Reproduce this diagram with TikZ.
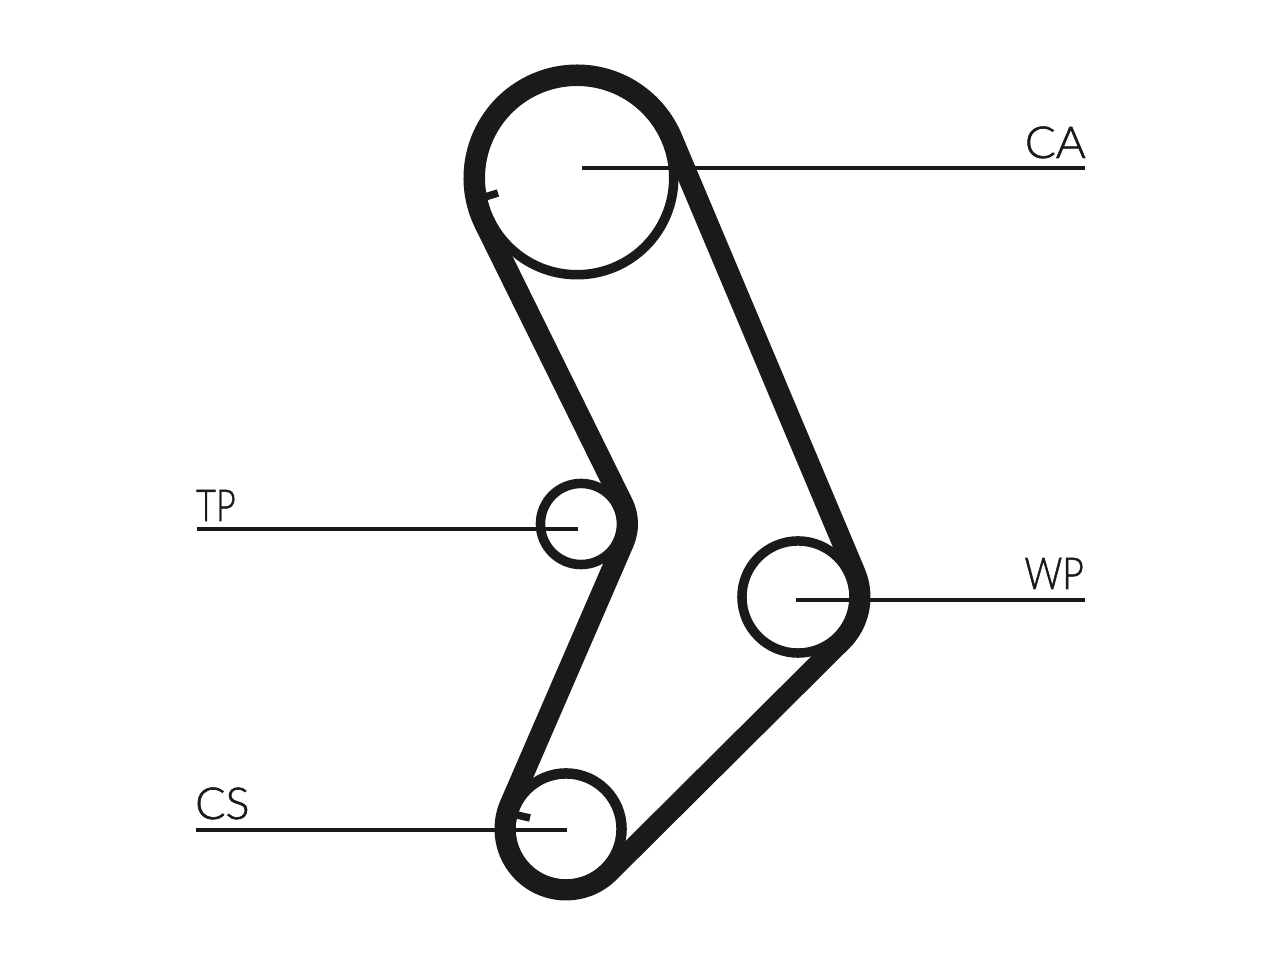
\documentclass[tikz,border=0pt]{standalone}
\usepackage{fontspec}
\setmainfont[FakeBold=1.3]{Lato Light}
\usetikzlibrary{calc}
\tikzset{
  x=1pt,y=1pt,
  pulley/.style={circle,draw=ink,line width=9.5pt,inner sep=0pt,outer sep=0pt,fill=none},
  belt/.style={draw=ink,line width=21pt,line join=round},
  leader/.style={draw=ink,line width=3.6pt},
  tick/.style={draw=ink,line width=7.5pt},
  lab/.style={font=\fontsize{44}{44}\selectfont,text=ink,inner sep=0pt}
}
\definecolor{ink}{HTML}{1A1A1A}
\begin{document}
\begin{tikzpicture}
\useasboundingbox (0,0) rectangle (1280,960);
\fill[white] (0,0) rectangle (1280,960);
\node[pulley,minimum size=193.5pt] (CA) at (577,782) {};
\node[pulley,minimum size=81.1pt] (TP) at (581,436) {};
\node[pulley,minimum size=112.1pt] (WP) at (798,363) {};
\node[pulley,line width=10.5pt,minimum size=111.1pt] (CS) at (566,131) {};
\draw[belt]
  ($(CA)+(206.3:103)$) arc[start angle=206.3,end angle=22.9,radius=103]
  -- ($(WP)+(22.9:62)$) arc[start angle=22.9,end angle=-45,radius=62]
  -- ($(CS)+(-45:61)$) arc[start angle=-45,end angle=-203.5,radius=61]
  -- ($(TP)+(-23.4:46.5)$) arc[start angle=-23.4,end angle=26.3,radius=46.5]
  -- cycle;
\coordinate (t1a) at (485,763); \coordinate (t1b) at (498,767);
\coordinate (t2a) at (517,145); \coordinate (t2b) at (530,142);
\draw[tick] (t1a) -- (t1b);
\draw[tick] (t2a) -- (t2b);
\coordinate (lca) at (1085,792); \coordinate (lwp) at (1085,360);
\coordinate (ltp) at (197,431); \coordinate (lcs) at (196,130);
\draw[leader] (lca) -- (582,792);
\draw[leader] (lwp) -- (796,360);
\draw[leader] (ltp) -- (578,431);
\draw[leader] (lcs) -- (567,130);
\node[lab,anchor=base east] (tCA) at (1086,802) {\scalebox{1.04}[1]{CA}};
\node[lab,anchor=base east] (tWP) at (1084,371) {\scalebox{.845}[1]{WP}};
\node[lab,anchor=base west] (tTP) at (196,439) {\scalebox{.775}[1]{TP}};
\node[lab,anchor=base west] (tCS) at (195,141) {\scalebox{1.02}[1]{CS}};
\end{tikzpicture}
\end{document}
